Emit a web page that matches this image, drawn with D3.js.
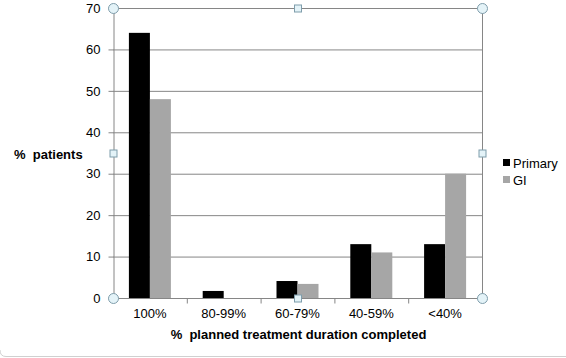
<!DOCTYPE html>
<html>
<head>
	<meta charset="UTF-8"/>
	<title>Treatment duration completed</title>
	<style type="text/css">
		body { margin: 0; background: #fff; font-family: 'Liberation Sans', Arial, sans-serif; }
		svg { display: block; }
		text { font-size: 13px; fill: #000; white-space: pre; }
		text.title { font-weight: bold; }
		.grid line { stroke: #868686; }
		.handle { fill: #e4f3f8; stroke: #7f9dab; }
	</style>
	<script src="https://d3js.org/d3.v7.min.js"></script>
</head>
<body>
	<svg width="566" height="358"></svg>
	<script>
		const categories = ['100%', '80-99%', '60-79%', '40-59%', '<40%'];
		const seriesNames = ['Primary', 'GI'];
		const primary = [64, 1.7, 4.1, 13, 13];
		const gi = [48, 0, 3.4, 11, 30];
		const yTicks = [0, 10, 20, 30, 40, 50, 60, 70];
		const colors = ['#000000', '#a6a6a6'];

		const pLeft = 113, pRight = 482, pTop = 8, pBottom = 298;
		const font = "'Liberation Sans', Arial, sans-serif";
		const svg = d3.select('svg');

		const x = d3.scaleBand().domain(categories).range([pLeft, pRight]);
		const inner = d3.scaleBand().domain(seriesNames).range([0, 42]);
		const y = d3.scaleLinear().domain([0, 70]).range([pBottom, pTop]);

		// gridlines
		svg.append('g').attr('class', 'grid')
			.selectAll('line').data(yTicks.filter(d => d > 0)).enter()
			.append('line')
			.attr('x1', pLeft).attr('x2', pRight)
			.attr('y1', d => y(d) + 0.5).attr('y2', d => y(d) + 0.5);

		// right border
		svg.append('line').attr('x1', pRight + 0.5).attr('x2', pRight + 0.5)
			.attr('y1', pTop).attr('y2', pBottom).attr('stroke', '#868686');

		// bars
		const rows = categories.map((c, i) => ({ c, vals: [primary[i], gi[i]] }));
		const groups = svg.append('g').selectAll('g').data(rows).enter()
			.append('g')
			.attr('transform', d => `translate(${x(d.c) + (x.bandwidth() - 42) / 2},0)`);
		groups.selectAll('rect').data(d => d.vals.map((v, j) => ({ v, s: seriesNames[j], j })))
			.enter().append('rect')
			.attr('x', d => inner(d.s))
			.attr('width', inner.bandwidth())
			.attr('y', d => y(d.v))
			.attr('height', d => pBottom - y(d.v))
			.attr('fill', d => colors[d.j]);

		// y axis
		const yAxis = svg.append('g')
			.attr('transform', `translate(${pLeft + 0.5},0)`)
			.call(d3.axisLeft(y).tickValues(yTicks).tickSize(5).tickPadding(8));
		yAxis.selectAll('path, line').attr('stroke', '#868686');
		yAxis.selectAll('text').attr('font-size', 13).attr('font-family', font).attr('fill', '#000');

		// x axis
		const xAxis = svg.append('g')
			.attr('transform', `translate(0,${pBottom + 0.5})`)
			.call(d3.axisBottom(x).tickSize(0).tickPadding(10));
		xAxis.select('path').attr('d', `M${pLeft},0H${pRight}`).attr('stroke', '#868686');
		xAxis.selectAll('text').attr('font-size', 13).attr('font-family', font).attr('fill', '#000');
		xAxis.selectAll('line.sep').data(categories.slice(1)).enter()
			.append('line')
			.attr('x1', d => x(d) + 0.5).attr('x2', d => x(d) + 0.5)
			.attr('y1', 0).attr('y2', 5).attr('stroke', '#868686');

		// axis titles
		svg.append('text').attr('class', 'title')
			.attr('x', 14).attr('y', 159).text('%  patients');
		svg.append('text').attr('class', 'title')
			.attr('x', (pLeft + pRight) / 2 + 1).attr('y', 339).attr('text-anchor', 'middle')
			.text('%  planned treatment duration completed');

		// legend
		const legend = svg.append('g').selectAll('g').data(seriesNames).enter()
			.append('g').attr('transform', (d, i) => `translate(503,${159 + i * 17})`);
		legend.append('rect').attr('width', 7).attr('height', 7).attr('fill', (d, i) => colors[i]);
		legend.append('text').attr('x', 10).attr('y', 9).text(d => d);

		// selection handles
		const circles = [[pLeft, pTop], [pRight, pTop], [pLeft, pBottom], [pRight, pBottom]];
		const squares = [[(pLeft + pRight) / 2, pTop], [(pLeft + pRight) / 2, pBottom], [pLeft, (pTop + pBottom) / 2], [pRight, (pTop + pBottom) / 2]];
		svg.append('g').selectAll('circle').data(circles).enter()
			.append('circle').attr('class', 'handle')
			.attr('cx', d => d[0] + 0.5).attr('cy', d => d[1] + 0.5).attr('r', 5);
		svg.append('g').selectAll('rect').data(squares).enter()
			.append('rect').attr('class', 'handle')
			.attr('x', d => d[0] - 3).attr('y', d => d[1] - 3).attr('width', 7).attr('height', 7);

		// frame edge at the bottom
		svg.append('path').attr('d', 'M0,350 Q0,356.5 6,356.5 H566')
			.attr('fill', 'none').attr('stroke', '#d0d0d0');
	</script>
</body>
</html>
